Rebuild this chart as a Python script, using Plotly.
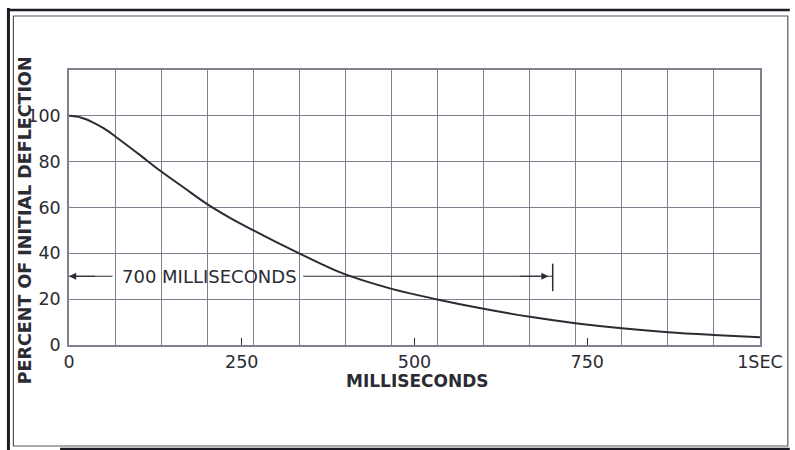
import plotly.graph_objects as go

# ---- data ----
time_ms = [0, 17, 33, 50, 67, 100, 133, 167, 200, 233, 267, 300, 333, 367, 400,
           467, 533, 600, 667, 733, 800, 867, 933, 1000]
percent = [100, 99.3, 97.4, 94.6, 91, 83.5, 75.8, 68.5, 61.5, 55.5, 50, 44.9,
           40, 35.1, 30.8, 24.5, 19.9, 15.8, 12.3, 9.5, 7.3, 5.6, 4.4, 3.4]
x_tickvals = [0, 250, 500, 750, 1000]
x_ticktext = ["0", "250", "500", "750", "1SEC"]
y_tickvals = [0, 20, 40, 60, 80, 100]
y_ticktext = ["0", "20", "40", "60", "80", "100"]
span_ms = 700
span_level = 30

# ---- layout geometry (pixels) ----
W, H = 795, 450
L, R, T, B = 69, 765, 70, 345
def px(xp):
    return (xp - L) / (R - L)
def py(yp):
    return (B - yp) / (B - T)

GRID = "#80808f"
INK = "#2b2b33"
FONT = "DejaVu Sans"

fig = go.Figure()
fig.add_trace(go.Scatter(x=time_ms, y=percent, mode="lines",
                         line=dict(color=INK, width=2, shape="spline", smoothing=1.0),
                         hoverinfo="skip", showlegend=False))

fig.update_layout(
    width=W, height=H,
    margin=dict(l=L, r=W - R, t=T, b=H - B),
    paper_bgcolor="white", plot_bgcolor="white",
    font=dict(family=FONT, color=INK, size=17),
    xaxis=dict(range=[0, 1000], tickvals=x_tickvals, ticktext=x_ticktext,
               showgrid=False, zeroline=False,
               showline=True, mirror=True, linecolor=GRID, linewidth=1.5,
               ticks="inside", ticklen=7, tickcolor=INK, tickwidth=1,
               tickfont=dict(size=17.5, color=INK),
               minor=dict(dtick=1000 / 15, tick0=0, showgrid=True,
                          gridcolor=GRID, gridwidth=1.3, ticks="")),
    yaxis=dict(range=[0, 120], tickvals=y_tickvals, ticktext=y_ticktext,
               showgrid=False, zeroline=False,
               showline=True, mirror=True, linecolor=GRID, linewidth=1.5,
               ticks="", tickfont=dict(size=17.5, color=INK),
               ticklabelstandoff=3,
               minor=dict(dtick=20, tick0=0, showgrid=True,
                          gridcolor=GRID, gridwidth=1.3, ticks="")),
)

shapes = []
# dimension line segments (broken by the text)
shapes.append(dict(type="line", xref="x", yref="y", x0=0, x1=63,
                   y0=span_level, y1=span_level, line=dict(color=INK, width=1.2)))
shapes.append(dict(type="line", xref="x", yref="y", x0=339, x1=span_ms,
                   y0=span_level, y1=span_level, line=dict(color=INK, width=1.2)))
shapes.append(dict(type="line", xref="x", yref="y", x0=span_ms, x1=span_ms,
                   y0=23.5, y1=35.5, line=dict(color=INK, width=1.5)))
# outer frame
shapes.append(dict(type="line", xref="paper", yref="paper", x0=px(8), x1=px(8),
                   y0=py(8), y1=py(450), line=dict(color="#1c1c24", width=3)))
shapes.append(dict(type="line", xref="paper", yref="paper", x0=px(7), x1=px(795),
                   y0=py(10), y1=py(10), line=dict(color="#1c1c24", width=2.5)))
shapes.append(dict(type="line", xref="paper", yref="paper", x0=px(60), x1=px(795),
                   y0=py(449), y1=py(449), line=dict(color="#1c1c24", width=2.5)))
shapes.append(dict(type="rect", xref="paper", yref="paper", x0=px(13), x1=px(793),
                   y0=py(16), y1=py(446), line=dict(color="#555560", width=1.2)))
fig.update_layout(shapes=shapes)

ann = []
# arrowheads
ann.append(dict(x=0, y=span_level, ax=40, ay=span_level, xref="x", yref="y",
                axref="x", ayref="y", text="", showarrow=True, arrowhead=2,
                arrowsize=1.2, arrowwidth=1.2, arrowcolor=INK))
ann.append(dict(x=span_ms - 6, y=span_level, ax=span_ms - 50, ay=span_level,
                xref="x", yref="y", axref="x", ayref="y", text="", showarrow=True,
                arrowhead=2, arrowsize=1.2, arrowwidth=1.2, arrowcolor=INK))
ann.append(dict(x=203, y=span_level, xref="x", yref="y", text="700 MILLISECONDS",
                showarrow=False, font=dict(size=18, color=INK),
                xanchor="center", yanchor="middle"))
# axis titles
ann.append(dict(x=px(420), y=py(381), xref="paper", yref="paper",
                text="<b>MILLISECONDS</b>", showarrow=False,
                xanchor="center", yanchor="middle",
                font=dict(size=17, color=INK)))
ann.append(dict(x=px(25), y=py(220), xref="paper", yref="paper", textangle=-90,
                text="<b>PERCENT OF INITIAL DEFLECTION</b>", showarrow=False,
                xanchor="center", yanchor="middle",
                font=dict(size=17.5, color=INK)))
fig.update_layout(annotations=ann)

fig.write_html("out.html", config={"displayModeBar": False},
               post_script="document.body.style.margin='0';")
